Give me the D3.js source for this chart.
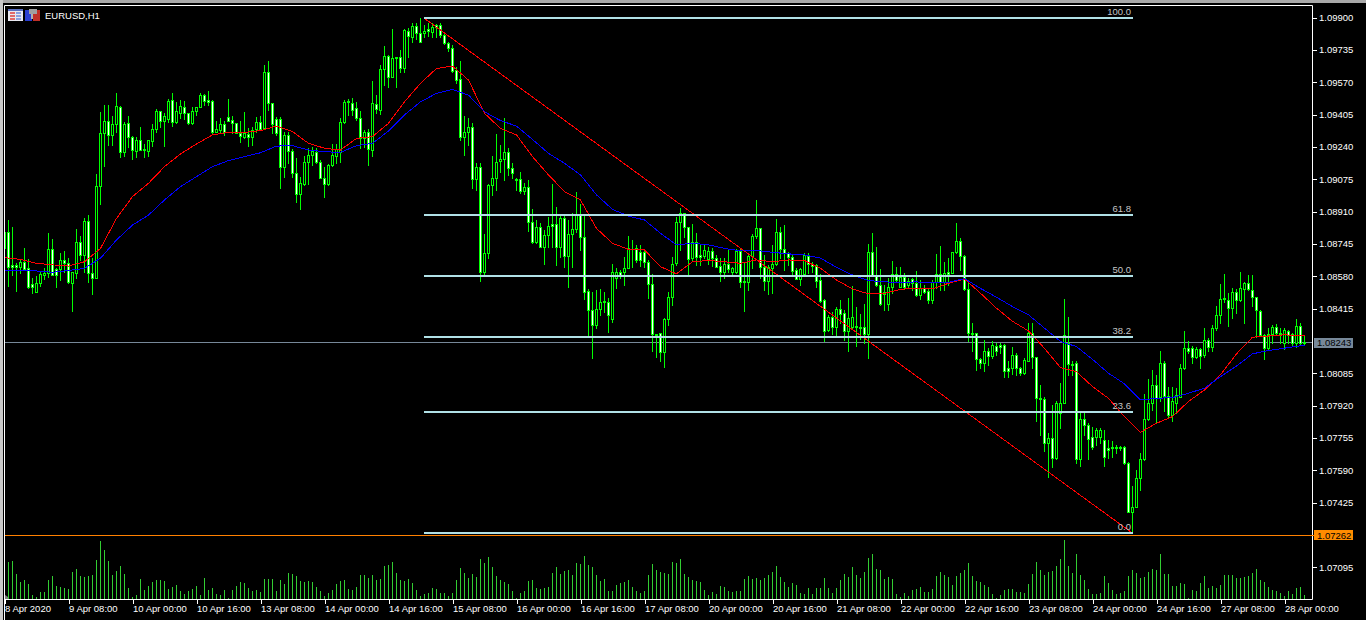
<!DOCTYPE html>
<html>
<head>
<meta charset="utf-8">
<title>EURUSD,H1</title>
<script src="https://cdnjs.cloudflare.com/ajax/libs/d3/7.8.5/d3.min.js"></script>
<style>
  html, body { margin: 0; padding: 0; background: #000; overflow: hidden; }
  svg { display: block; }
  text { font-family: "Liberation Sans", Arial, sans-serif; font-size: 9.5px; fill: #fff; }
</style>
</head>
<body>
<div id="chart"></div>
<script>
// all candle values are points (0.00001) above this price
const basePrice = 1.07;

const opens = [
  1722,1804,1638,1638,1629,1653,1620,1539,1501,1544,
  1588,1595,1717,1615,1615,1663,1646,1547,1595,1753,
  1688,1862,1595,1573,2040,2309,2372,2299,2355,2442,
  2215,2360,2289,2221,2275,2227,2221,2272,2329,2421,
  2374,2380,2479,2369,2414,2445,2411,2363,2423,2445,
  2504,2479,2472,2318,2326,2355,2391,2377,2360,2312,
  2292,2304,2289,2329,2365,2334,2620,2462,2382,2382,
  2136,2301,2221,2105,1998,2049,2165,2199,2215,2165,
  2080,2049,2148,2193,2215,2369,2474,2465,2437,2385,
  2284,2314,2224,2457,2428,2635,2705,2598,2697,2697,
  2640,2833,2802,2856,2819,2819,2839,2827,2860,2860,
  2810,2768,2746,2632,2584,2292,2318,2340,2074,2136,
  1604,1697,2046,2080,2166,2176,2215,2131,2076,2074,
  2017,2034,1855,1753,1833,1731,1790,1847,1847,1728,
  1875,1685,1794,1819,1893,1782,1507,1408,1332,1411,
  1447,1447,1360,1573,1603,1603,1624,1726,1726,1705,
  1702,1654,1539,1284,1289,1192,1360,1476,1646,1859,
  1901,1830,1672,1757,1689,1685,1666,1707,1675,1632,
  1603,1643,1603,1603,1709,1556,1552,1683,1787,1825,
  1629,1558,1622,1643,1807,1719,1697,1680,1612,1564,
  1592,1685,1643,1638,1561,1459,1306,1374,1323,1411,
  1391,1303,1323,1326,1323,1320,1286,1702,1581,1535,
  1498,1439,1524,1592,1527,1575,1535,1564,1547,1485,
  1519,1505,1459,1549,1590,1549,1603,1598,1702,1762,
  1683,1513,1289,1289,1156,1136,1196,1173,1224,1230,
  1230,1111,1111,1179,1111,1085,1150,1292,1167,957,
  954,731,753,651,881,935,1241,1133,1136,646,
  850,822,762,762,762,745,702,711,711,711,
  711,626,379,405,553,648,850,932,1025,963,
  1136,969,873,935,966,1111,1213,1213,1167,1207,
  1179,1255,1221,1315,1382,1462,1459,1417,1498,1459,
  1513,1547,1510,1473,1403,1281,1213,1286,1320,1289,
  1238,1303,1286,1241,1326,1241
];
const highs = [
  1804,1867,1830,1646,1663,1726,1666,1569,1581,1609,
  1620,1801,1770,1620,1697,1709,1672,1603,1821,1785,
  1875,1892,1672,2102,2419,2453,2453,2397,2513,2448,
  2369,2397,2295,2292,2340,2255,2275,2357,2431,2423,
  2414,2482,2513,2470,2479,2474,2414,2442,2445,2513,
  2508,2527,2479,2374,2385,2374,2484,2397,2363,2374,
  2419,2334,2343,2391,2397,2657,2678,2465,2394,2391,
  2318,2318,2227,2181,2088,2193,2236,2241,2236,2173,
  2139,2153,2255,2255,2385,2479,2482,2488,2470,2425,
  2326,2329,2576,2504,2657,2756,2709,2841,2700,2734,
  2841,2845,2870,2870,2895,2861,2870,2870,2867,2870,
  2827,2776,2759,2649,2678,2397,2385,2360,2156,2156,
  1794,2049,2193,2304,2249,2385,2232,2156,2080,2110,
  2054,2071,1921,1867,1850,1816,1881,2051,1932,1887,
  1893,1867,1901,2008,1949,1893,1513,1498,1510,1515,
  1501,1471,1641,1620,1612,1680,1785,1765,1740,1740,
  1714,1663,1592,1284,1289,1366,1501,1680,1884,1927,
  1901,1833,1845,1802,1740,1743,1731,1723,1689,1672,
  1672,1717,1629,1717,1717,1646,1697,1794,1969,1828,
  1689,1638,1740,1872,1833,1841,1702,1689,1620,1620,
  1697,1697,1654,1643,1592,1462,1383,1400,1422,1459,
  1408,1471,1530,1425,1388,1439,1743,1802,1728,1615,
  1535,1569,1660,1626,1626,1595,1569,1569,1607,1561,
  1535,1519,1561,1694,1734,1654,1672,1706,1850,1774,
  1689,1561,1340,1292,1162,1255,1212,1247,1238,1238,
  1235,1145,1218,1187,1119,1162,1340,1340,1170,1025,
  963,779,924,941,1034,1462,1371,1145,1145,881,
  881,830,810,805,805,793,745,737,720,714,
  714,634,510,592,680,980,1054,1102,1077,1201,
  1145,1017,1017,1009,1133,1303,1252,1224,1218,1213,
  1318,1264,1332,1428,1541,1592,1496,1519,1513,1600,
  1552,1586,1586,1476,1408,1286,1315,1332,1337,1315,
  1315,1306,1289,1360,1343,1281
];
const lows = [
  1697,1530,1586,1505,1595,1612,1519,1496,1501,1530,
  1566,1578,1586,1527,1561,1603,1544,1405,1569,1663,
  1603,1552,1490,1573,1949,2142,2249,2249,2318,2190,
  2193,2241,2178,2187,2224,2187,2193,2244,2318,2340,
  2246,2369,2346,2363,2385,2380,2355,2357,2403,2442,
  2454,2454,2312,2314,2312,2301,2374,2312,2309,2266,
  2284,2244,2249,2318,2326,2334,2428,2309,2301,2029,
  2088,2156,2088,1961,1921,2046,2051,2148,2156,2080,
  1983,2046,2142,2156,2164,2363,2403,2403,2377,2233,
  2241,2148,2193,2411,2408,2555,2544,2595,2547,2624,
  2624,2700,2776,2788,2776,2802,2805,2802,2802,2802,
  2765,2731,2624,2564,2275,2198,2249,2029,2020,1556,
  1586,1672,1994,2020,2114,2071,2097,2080,2020,2006,
  1999,1813,1748,1748,1728,1643,1731,1731,1638,1680,
  1629,1527,1629,1808,1714,1464,1281,1165,1315,1382,
  1400,1298,1349,1519,1569,1535,1620,1629,1654,1634,
  1629,1468,1196,1170,1148,1119,1332,1434,1638,1714,
  1782,1586,1663,1638,1638,1672,1643,1632,1626,1558,
  1570,1603,1581,1598,1524,1405,1510,1620,1773,1569,
  1510,1490,1493,1638,1672,1612,1638,1586,1564,1535,
  1586,1595,1600,1527,1451,1252,1303,1286,1281,1343,
  1255,1201,1315,1224,1258,1241,1165,1581,1530,1434,
  1408,1408,1496,1558,1524,1519,1524,1510,1479,1462,
  1496,1445,1445,1519,1510,1510,1535,1595,1697,1612,
  1510,1252,1201,1102,1111,1099,1127,1162,1179,1187,
  1068,1068,1082,1077,1077,1082,1145,1111,839,771,
  686,558,609,648,804,932,1077,1077,626,612,
  770,648,697,719,728,612,651,657,677,694,
  623,376,269,402,490,643,847,898,830,941,
  890,864,839,881,963,1105,1187,1136,1162,1111,
  1170,1201,1196,1306,1340,1451,1326,1366,1391,1456,
  1340,1510,1428,1272,1275,1158,1207,1238,1281,1238,
  1207,1238,1230,1221,1235,1230
];
const closes = [
  1804,1629,1626,1627,1653,1615,1527,1527,1544,1592,
  1598,1717,1586,1586,1663,1649,1552,1603,1753,1688,
  1862,1595,1573,2040,2309,2372,2299,2355,2448,2215,
  2357,2289,2224,2275,2224,2222,2275,2329,2421,2374,
  2397,2474,2369,2421,2448,2411,2363,2421,2445,2504,
  2476,2470,2318,2329,2355,2314,2374,2363,2312,2295,
  2309,2289,2326,2365,2329,2620,2462,2357,2309,2139,
  2301,2221,2105,1998,2054,2165,2199,2221,2165,2083,
  2049,2148,2199,2227,2369,2467,2467,2428,2385,2284,
  2314,2227,2462,2431,2635,2705,2598,2691,2691,2644,
  2836,2807,2856,2819,2776,2833,2833,2853,2853,2810,
  2768,2746,2629,2581,2292,2318,2340,2074,2136,1604,
  1697,2046,2080,2165,2176,2215,2131,2108,2071,2017,
  2034,1859,1753,1833,1731,1790,1838,1838,1728,1875,
  1685,1794,1819,1893,1782,1501,1408,1332,1411,1447,
  1456,1382,1600,1603,1586,1624,1726,1722,1663,1663,
  1654,1539,1284,1281,1192,1360,1476,1641,1859,1901,
  1830,1666,1757,1680,1680,1714,1707,1675,1629,1603,
  1643,1617,1620,1709,1552,1549,1683,1785,1825,1629,
  1558,1626,1643,1804,1719,1697,1680,1609,1566,1617,
  1689,1641,1634,1558,1456,1303,1374,1323,1413,1386,
  1303,1366,1371,1320,1316,1286,1702,1586,1535,1439,
  1490,1524,1592,1561,1575,1527,1558,1547,1485,1519,
  1502,1459,1549,1590,1549,1595,1592,1702,1762,1683,
  1513,1289,1286,1156,1136,1199,1173,1230,1196,1221,
  1094,1094,1179,1111,1088,1153,1292,1167,957,954,
  731,753,655,935,935,1280,1133,1127,646,850,
  822,748,711,796,796,660,691,706,704,706,
  626,379,402,553,648,850,935,1025,957,1136,
  969,873,941,975,1111,1213,1201,1167,1207,1173,
  1255,1221,1315,1382,1462,1467,1417,1498,1459,1519,
  1544,1513,1473,1408,1281,1213,1286,1320,1289,1286,
  1306,1281,1241,1326,1241,1243
];

// tick volume, no scale is printed for it in the picture
const volumes = [
  30,110,114,75,51,57,45,12,7,21,
  21,57,69,39,35,33,30,81,90,69,
  66,69,72,117,174,147,114,72,84,99,
  75,33,6,12,60,27,39,51,57,57,
  54,30,36,42,24,15,24,30,39,12,
  63,27,33,15,12,27,2,27,39,51,
  48,33,24,27,21,60,60,60,24,57,
  45,78,75,69,54,51,54,51,36,24,
  9,18,27,45,54,57,30,27,36,72,
  72,63,72,57,60,99,102,111,78,57,
  54,60,48,27,9,15,18,33,30,18,
  18,9,18,57,93,78,63,75,66,120,
  108,126,96,69,57,51,45,24,3,18,
  24,54,57,33,30,33,36,78,96,75,
  84,87,72,108,105,129,102,96,72,54,
  60,24,24,42,48,51,57,36,24,18,
  24,72,105,87,81,78,75,111,108,120,
  75,66,57,54,51,27,12,21,15,39,
  36,24,21,24,24,60,69,60,63,57,
  63,72,81,99,66,51,36,48,42,18,
  15,33,15,33,33,63,33,18,33,57,
  75,66,96,72,63,81,123,135,90,87,
  60,66,60,15,6,18,9,27,30,36,
  21,21,30,69,81,72,66,42,69,78,
  87,108,69,54,51,42,36,15,3,12,
  27,30,30,21,21,18,45,75,111,87,
  72,81,84,99,120,177,99,78,135,72,
  57,30,15,15,18,69,48,27,15,18,
  24,69,87,78,63,66,81,90,87,135,
  75,75,39,39,48,45,2,27,24,48,
  69,33,39,33,42,72,72,72,63,63,
  66,69,78,90,57,51,36,27,24,18,
  9,24,15,33,36,12
];

// moving averages, plus the last bar
const maBars = d3.range(0, 325, 4).concat([325]);
const redMa = [
  1675,1666,1646,1638,1632,1654,1722,1875,1986,2054,2139,2204,2255,2301,2314,2314,2323,2346,2318,2258,2233,2224,
  2283,2292,2360,2470,2564,2640,2652,2581,2411,2334,2301,2190,2097,2012,1969,1824,1748,1717,1714,1629,1592,
  1654,1660,1654,1646,1663,1654,1663,1660,1620,1561,1515,1490,1493,1513,1519,1515,1544,1566,1493,1417,1350,
  1301,1212,1114,1093,1017,957,864,784,830,864,941,1000,1077,1184,1269,1275,1281,1277,1275
];
const blueMa = [
  1607,1607,1607,1600,1609,1620,1672,1765,1841,1892,1969,2037,2088,2139,2170,2190,2210,2244,2246,2224,2215,2212,
  2246,2258,2321,2403,2470,2513,2533,2504,2419,2374,2346,2278,2207,2156,2097,1995,1921,1887,1867,1799,1740,
  1748,1740,1722,1709,1711,1702,1694,1689,1672,1626,1586,1558,1551,1549,1551,1547,1549,1568,1518,1473,1425,
  1383,1315,1247,1221,1156,1085,1031,949,957,961,983,1009,1068,1122,1184,1201,1213,1225,1225
];

// fibonacci object, from the high bar to the low bar
const fibBars = [105, 282];
const fibLevels = ["100.0", "61.8", "50.0", "38.2", "23.6", "0.0"];
const fibValues = [2895, 1892, 1582, 1272, 889, 269];

const priceTicks = [1.09900, 1.09735, 1.09570, 1.09405, 1.09240, 1.09075, 1.08910, 1.08745, 1.08580,
  1.08415, 1.08085, 1.07920, 1.07755, 1.07590, 1.07425, 1.07095];
const bidPrice = 1.08243;
const linePrice = 1.07262;

const timeTickBars = d3.range(0, 326, 16);
const timeLabels = ["8 Apr 2020", "9 Apr 08:00", "10 Apr 00:00", "10 Apr 16:00", "13 Apr 08:00", "14 Apr 00:00",
  "14 Apr 16:00", "15 Apr 08:00", "16 Apr 00:00", "16 Apr 16:00", "17 Apr 08:00", "20 Apr 00:00", "20 Apr 16:00",
  "21 Apr 08:00", "22 Apr 00:00", "22 Apr 16:00", "23 Apr 08:00", "24 Apr 00:00", "24 Apr 16:00", "27 Apr 08:00",
  "28 Apr 00:00"];

const chartTitle = "EURUSD,H1";

const width = 1366, height = 620;
const plot = {left: 4, right: 1312, top: 5, bottom: 599};

const svg = d3.select("#chart").append("svg")
    .attr("width", width)
    .attr("height", height);

const x = d3.scaleLinear().domain([0, 325]).range([4, 1304]);
const y = d3.scaleLinear().domain([1.07095, 1.09900]).range([567.3, 17.5]);
const volY = d3.scaleLinear().domain([0, 177]).range([plot.bottom, 540]);

const toPrice = v => basePrice + v / 1e5;
// pixel centres, everything in the terminal is drawn without antialiasing
const px = v => Math.round(v) + 0.5;

svg.append("rect").attr("width", width).attr("height", height).attr("fill", "#000");

// window edge
svg.append("rect").attr("width", width).attr("height", 3).attr("fill", "#a8a8a8");
svg.append("rect").attr("width", 3).attr("height", height).attr("fill", "#c8c8c8");

svg.append("defs").append("clipPath").attr("id", "plot-clip")
  .append("rect")
    .attr("x", plot.left + 1).attr("y", plot.top + 1)
    .attr("width", plot.right - plot.left - 1)
    .attr("height", plot.bottom - plot.top - 1);

const g = svg.append("g").attr("clip-path", "url(#plot-clip)");

// bid line goes under the candles
g.append("line")
    .attr("x1", plot.left).attr("x2", plot.right)
    .attr("y1", Math.floor(y(bidPrice)) + 0.5).attr("y2", Math.floor(y(bidPrice)) + 0.5)
    .attr("stroke", "#778899");

// volume
g.append("g").selectAll("line")
    .data(volumes)
  .join("line")
    .attr("x1", (d, i) => px(x(i)))
    .attr("x2", (d, i) => px(x(i)))
    .attr("y1", plot.bottom)
    .attr("y2", d => Math.round(volY(d)))
    .attr("stroke", "#32cd32");

// small grey mark in the corner of the volume window
g.append("path")
    .attr("d", "M5,599V595L8,597V599Z")
    .attr("fill", "#808080");

// candles
const candles = g.append("g").selectAll("g")
    .data(d3.range(opens.length))
  .join("g");

candles.append("line")
    .attr("x1", i => px(x(i)))
    .attr("x2", i => px(x(i)))
    .attr("y1", i => Math.round(y(toPrice(highs[i]))))
    .attr("y2", i => Math.round(y(toPrice(lows[i]))) + 1)
    .attr("stroke", "#00ff00")
    .attr("shape-rendering", "crispEdges");

candles.append("rect")
    .attr("x", i => px(x(i)) - 1)
    .attr("width", 2)
    .attr("y", i => px(y(toPrice(Math.max(opens[i], closes[i])))))
    .attr("height", i => px(y(toPrice(Math.min(opens[i], closes[i])))) - px(y(toPrice(Math.max(opens[i], closes[i])))))
    .attr("fill", i => closes[i] < opens[i] ? "#fff" : "#000")
    .attr("stroke", "#00ff00")
    .attr("shape-rendering", "crispEdges");

// moving averages
const maLine = d3.line()
    .x((d, i) => px(x(maBars[i])))
    .y(d => y(toPrice(d)));

g.append("path")
    .attr("d", maLine(redMa))
    .attr("fill", "none")
    .attr("stroke", "#ff0000")
    .attr("shape-rendering", "crispEdges");
g.append("path")
    .attr("d", maLine(blueMa))
    .attr("fill", "none")
    .attr("stroke", "#0000ff")
    .attr("shape-rendering", "crispEdges");

// fibonacci trend line and levels
g.append("line")
    .attr("x1", px(x(fibBars[0])))
    .attr("y1", y(toPrice(fibValues[0])))
    .attr("x2", px(x(fibBars[1])))
    .attr("y2", y(toPrice(fibValues[fibValues.length - 1])))
    .attr("stroke", "#ff0000")
    .attr("shape-rendering", "crispEdges");

g.append("g").selectAll("line")
    .data(fibValues)
  .join("line")
    .attr("x1", x(fibBars[0]))
    .attr("x2", x(fibBars[1]) + 1)
    .attr("y1", d => Math.round(y(toPrice(d))))
    .attr("y2", d => Math.round(y(toPrice(d))))
    .attr("stroke", "#b0e0e6")
    .attr("stroke-width", 2)
    .attr("shape-rendering", "crispEdges");

g.append("g").selectAll("text")
    .data(fibValues)
  .join("text")
    .attr("x", x(fibBars[1]) - 1)
    .attr("y", d => Math.round(y(toPrice(d))) - 3)
    .attr("text-anchor", "end")
    .style("fill", "#c6c6c6")
    .text((d, i) => fibLevels[i]);

// frame
svg.append("path")
    .attr("d", `M${plot.left + 0.5},${height}V${plot.top + 0.5}H${plot.right + 0.5}V${plot.bottom + 0.5}H${plot.left}`)
    .attr("fill", "none")
    .attr("stroke", "#fff");

// the orange horizontal line sits on top and runs up to its tag
svg.append("rect")
    .attr("x", plot.left + 1)
    .attr("y", Math.round(y(linePrice)))
    .attr("width", plot.right - plot.left + 1)
    .attr("height", 1)
    .attr("fill", "#ff8000");

// axes
const priceAxis = d3.axisRight(y)
    .tickValues(priceTicks)
    .tickFormat(d3.format(".5f"))
    .tickSize(4)
    .tickPadding(2);
const priceG = svg.append("g")
    .attr("transform", `translate(${plot.right + 1},0)`)
    .call(priceAxis);
priceG.select(".domain").remove();
priceG.selectAll("line").attr("stroke", "#fff").attr("shape-rendering", "crispEdges");
priceG.selectAll("text").style("fill", "#fff");

const timeAxis = d3.axisBottom(x)
    .tickValues(timeTickBars)
    .tickFormat((d, i) => timeLabels[i])
    .tickSize(4)
    .tickPadding(1);
const timeG = svg.append("g")
    .attr("transform", `translate(0.5,${plot.bottom + 1})`)
    .call(timeAxis);
timeG.select(".domain").remove();
timeG.selectAll("line").attr("stroke", "#fff").attr("shape-rendering", "crispEdges");
timeG.selectAll("text").attr("text-anchor", "start").attr("x", 0).style("fill", "#fff");

// price tags on the right
const tags = [
  {price: bidPrice, fill: "#778899"},
  {price: linePrice, fill: "#ff8c00"}
];
const tag = svg.append("g").selectAll("g").data(tags).join("g");
tag.append("rect")
    .attr("x", plot.right + 2)
    .attr("y", d => Math.round(y(d.price) - 4.5))
    .attr("width", 39)
    .attr("height", 10)
    .attr("fill", d => d.fill);
tag.append("text")
    .attr("x", plot.right + 5)
    .attr("y", d => Math.round(y(d.price)) + 4)
    .style("fill", "#000")
    .text(d => d3.format(".5f")(d.price));

// header: two small toolbar icons and the symbol name
const icons = svg.append("g").attr("shape-rendering", "crispEdges");
icons.append("rect").attr("x", 8).attr("y", 9).attr("width", 15).attr("height", 12).attr("fill", "#e8e8f0");
icons.append("rect").attr("x", 8).attr("y", 9).attr("width", 15).attr("height", 2).attr("fill", "#5a6fc0");
[12, 15, 18].forEach(r => {
  icons.append("rect").attr("x", 10).attr("y", r).attr("width", 5).attr("height", 2).attr("fill", "#e06a6a");
  icons.append("rect").attr("x", 16).attr("y", r).attr("width", 5).attr("height", 2).attr("fill", "#8aa0e0");
});
icons.append("rect").attr("x", 25).attr("y", 10).attr("width", 7).attr("height", 11).attr("fill", "#2a3fd0");
icons.append("rect").attr("x", 33).attr("y", 10).attr("width", 7).attr("height", 11).attr("fill", "#c03028");
icons.append("rect").attr("x", 29).attr("y", 9).attr("width", 8).attr("height", 5).attr("fill", "#a0a0a0");
icons.append("rect").attr("x", 31).attr("y", 14).attr("width", 2).attr("height", 5).attr("fill", "#b0b0b0");

svg.append("text")
    .attr("x", 45)
    .attr("y", 19)
    .text(chartTitle);
</script>
</body>
</html>
